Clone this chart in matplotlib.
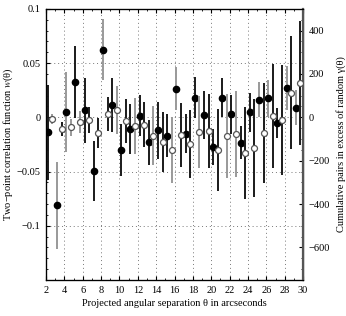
import matplotlib
matplotlib.use('Agg')
import matplotlib.pyplot as plt
from matplotlib.ticker import MultipleLocator, FixedLocator
import numpy as np

plt.rcParams['font.family'] = ['Liberation Serif', 'DejaVu Serif']
plt.rcParams['mathtext.fontset'] = 'stix'
plt.rcParams['font.size'] = 7.5

# angular bins (arcsec)
theta = np.arange(2, 30)

# w(theta), filled points, left axis
w_val = [-0.0138, -0.0812, 0.0046, 0.0323, 0.0065, -0.0496, 0.0625, 0.0114,
         -0.0302, -0.0108, 0.0016, -0.0231, -0.0120, -0.0169, 0.0265, -0.0150,
         0.0182, 0.0018, -0.0274, 0.0182, 0.0028, -0.0234, 0.0046, 0.0163,
         0.0175, -0.0051, 0.0270, 0.0090]
w_err = [0.044, 0.040, 0.037, 0.033, 0.030, 0.028, 0.028, 0.025,
         0.024, 0.023, 0.019, 0.021, 0.026, 0.020, 0.020, 0.018,
         0.019, 0.022, 0.017, 0.018, 0.018, 0.015, 0.018, 0.016,
         0.017, 0.014, 0.020, 0.016]
w_col = ['k', 'g', 'g', 'k', 'k', 'k', 'g', 'k',
         'k', 'k', 'k', 'k', 'k', 'k', 'g', 'k',
         'k', 'k', 'k', 'k', 'k', 'k', 'k', 'g',
         'g', 'k', 'g', 'g']

# gamma(theta), open points, right axis
g_val = [-6, -52, -47, -22, -14, -72, 14, 32,
         -18, -38, -34, -84, -112, -152, -83, -124,
         -68, -63, -149, -86, -75, -163, -140, -72,
         8, -14, 114, 158]
g_err = [23, 32, 37, 51, 60, 69, 78, 111,
         101, 129, 105, 138, 138, 152, 148, 157,
         166, 171, 189, 194, 198, 212, 226, 230,
         240, 254, 260, 286]
g_col = ['g', 'k', 'g', 'g', 'k', 'k', 'k', 'g',
         'k', 'g', 'k', 'g', 'k', 'g', 'k', 'k',
         'g', 'k', 'k', 'g', 'g', 'k', 'k', 'k',
         'k', 'k', 'k', 'k']

colors = {'k': '#1a1a1a', 'g': '#999999'}

fig = plt.figure(figsize=(3.46, 3.16), dpi=100)
ax = fig.add_axes([0.133, 0.114, 0.743, 0.858])
ax2 = ax.twinx()

xf = theta + 0.2
xo = theta + 0.7

for i in range(len(theta)):
    ax.errorbar(xf[i], w_val[i], yerr=w_err[i], fmt='none',
                ecolor=colors[w_col[i]], elinewidth=1.4, capsize=0, zorder=2)
    ax2.errorbar(xo[i], g_val[i], yerr=g_err[i], fmt='none',
                 ecolor=colors[g_col[i]], elinewidth=1.4, capsize=0, zorder=2)

ax.plot(xf, w_val, 'o', color='black', markersize=4.5, zorder=3)
ax2.plot(xo, g_val, 'o', mfc='white', mec='#555555', mew=0.9,
         markersize=4.3, zorder=3)

ax.set_xlim(2, 30)
ax.set_ylim(-0.15, 0.1)
ax2.set_ylim(-750, 500)

ax.xaxis.set_major_locator(MultipleLocator(2))
ax.xaxis.set_minor_locator(MultipleLocator(1))
ax.yaxis.set_major_locator(FixedLocator([-0.1, -0.05, 0, 0.05, 0.1]))
ax.yaxis.set_minor_locator(MultipleLocator(0.01))
ax.set_yticklabels(['\u22120.1', '\u22120.05', '0', '0.05', '0.1'])
ax2.yaxis.set_major_locator(FixedLocator([-600, -400, -200, 0, 200, 400]))
ax2.yaxis.set_minor_locator(MultipleLocator(50))
ax2.set_yticklabels(['\u2212600', '\u2212400', '\u2212200', '0', '200', '400'])

ax.tick_params(which='both', direction='in', top=True, right=False)
ax.tick_params(which='major', length=3, width=0.8, pad=4)
ax.tick_params(which='minor', length=1.5, width=0.6)
ax2.tick_params(which='both', direction='in')
ax2.tick_params(which='major', length=3, width=0.8, pad=4)
ax2.tick_params(which='minor', length=1.5, width=0.6)

ax.grid(True, which='major', linestyle=(0, (1, 3)), color='#777777', linewidth=0.7)

for sp in ax.spines.values():
    sp.set_linewidth(0.9)
ax2.spines['right'].set_linewidth(1.6)
ax2.spines['right'].set_color('#555555')

ax.set_xlabel('Projected angular separation \u03b8 in arcseconds', labelpad=3)
ax.set_ylabel('Two\u2212point correlation function $w$(\u03b8)', labelpad=1)
ax2.set_ylabel('Cumulative pairs in excess of random \u03b3(\u03b8)', labelpad=4)

fig.savefig('out.png', dpi=100)
